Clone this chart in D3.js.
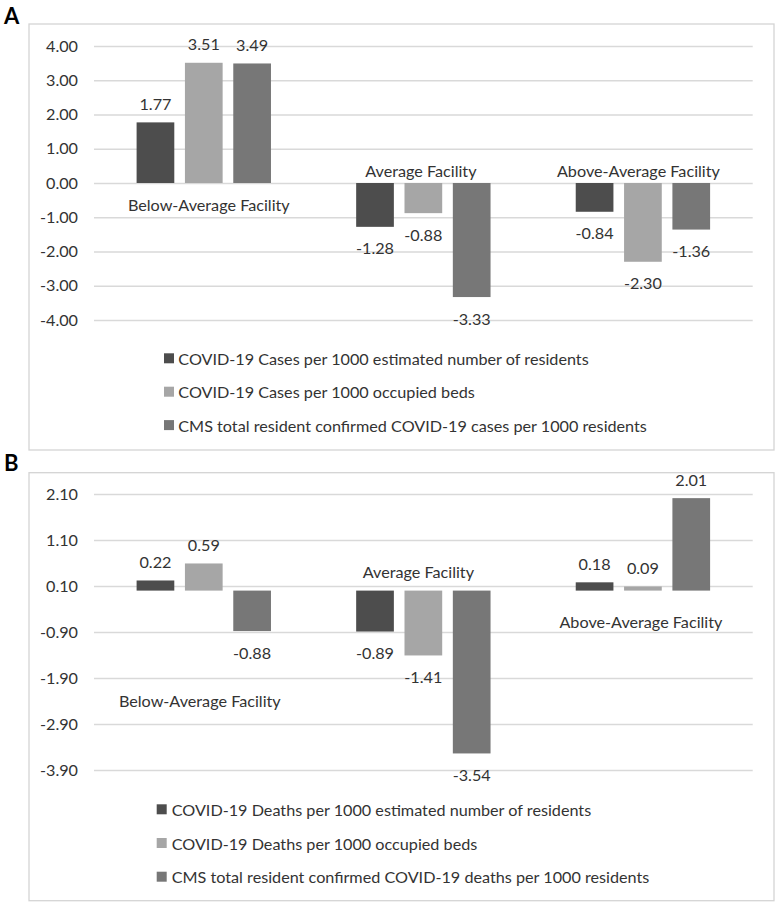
<!DOCTYPE html>
<html>
<head>
<meta charset="utf-8">
<script src="https://cdn.jsdelivr.net/npm/d3@7"></script>
<style>
  html, body { margin: 0; padding: 0; background: #ffffff; }
  svg { display: block; }
  text { font-family: Lato, "Liberation Sans", sans-serif; }
</style>
</head>
<body>
<svg id="chart" width="777" height="904"></svg>
<script>
// ---------- DATA ----------
const categories = ["Below-Average Facility", "Average Facility", "Above-Average Facility"];

const seriesA = [
  "COVID-19 Cases per 1000 estimated number of residents",
  "COVID-19 Cases per 1000 occupied beds",
  "CMS total resident confirmed COVID-19 cases per 1000 residents"
];
// values per category (rows) for each series (columns)
const valuesA = [
  [1.77, 3.51, 3.49],
  [-1.28, -0.88, -3.33],
  [-0.84, -2.30, -1.36]
];
const ticksA = [-4, -3, -2, -1, 0, 1, 2, 3, 4];

const seriesB = [
  "COVID-19 Deaths per 1000 estimated number of residents",
  "COVID-19 Deaths per 1000 occupied beds",
  "CMS total resident confirmed COVID-19 deaths per 1000 residents"
];
const valuesB = [
  [0.22, 0.59, -0.88],
  [-0.89, -1.41, -3.54],
  [0.18, 0.09, 2.01]
];
const ticksB = [-3.9, -2.9, -1.9, -0.9, 0.1, 1.1, 2.1];

const seriesColors = ["#4d4d4d", "#a6a6a6", "#777777"];

// ---------- LAYOUT ----------
const svg = d3.select("#chart");
const textColor = "#333333";
const gridColor = "#d9d9d9";
const fontSize = 16.2;

const panels = [
  {
    letter: "A", letterY: 24,
    box: {x: 29, y: 24, w: 745, h: 426},
    xRange: [94, 752.7],
    domain: [-4, 4], yRange: [320, 46],
    ticks: ticksA, series: seriesA, values: valuesA,
    catDy: [21, -12.5, -12.5], catDx: [5, -2.5, -4.5],
    legend: {sqX: 164, textX: 178.3, y0: 358.3, dy: 33.4}
  },
  {
    letter: "B", letterY: 471,
    box: {x: 29, y: 472.7, w: 745, h: 428},
    xRange: [94, 752.7],
    domain: [-3.9, 2.1], yRange: [770, 494],
    ticks: ticksB, series: seriesB, values: valuesB,
    catDy: [109.4, -19, 31], catDx: [-4, -5, -2],
    legend: {sqX: 156.7, textX: 171.7, y0: 809.3, dy: 33.7}
  }
];

const fmt = v => v.toFixed(2); // hyphen-minus like the original

panels.forEach(p => {
  const g = svg.append("g");

  // panel letter
  svg.append("text")
    .attr("x", 4).attr("y", p.letterY)
    .attr("font-family", "'Liberation Sans', Arial, sans-serif")
    .attr("font-weight", "bold").attr("font-size", 22)
    .attr("fill", "#000").text(p.letter);

  // frame
  g.append("rect")
    .attr("x", p.box.x).attr("y", p.box.y)
    .attr("width", p.box.w).attr("height", p.box.h)
    .attr("fill", "#fff").attr("stroke", "#d4d4d4").attr("stroke-width", 1.3);

  const y = d3.scaleLinear().domain(p.domain).range(p.yRange);
  const x0 = d3.scaleBand().domain(categories).range(p.xRange).paddingInner(0).paddingOuter(0);
  const bw = x0.bandwidth();
  const x1 = d3.scaleBand().domain(d3.range(p.series.length))
    .range([bw * 0.194, bw * 0.806]).paddingInner(0.22).paddingOuter(0);

  // gridlines
  g.append("g")
    .attr("transform", `translate(${p.xRange[0]},0)`)
    .call(d3.axisLeft(y).tickValues(p.ticks)
      .tickSize(-(p.xRange[1] - p.xRange[0]))
      .tickFormat(d => fmt(d)))
    .call(ax => ax.select(".domain").remove())
    .call(ax => ax.selectAll(".tick line").attr("stroke", gridColor).attr("stroke-width", 1.3))
    .call(ax => ax.selectAll(".tick text")
      .attr("x", -16).attr("fill", textColor)
      .attr("font-size", fontSize).attr("font-family", "Lato, 'Liberation Sans', sans-serif"));

  // bars
  const groups = g.selectAll("g.cat").data(categories).join("g")
    .attr("class", "cat")
    .attr("transform", d => `translate(${x0(d)},0)`);

  groups.each(function(cat, ci) {
    const gg = d3.select(this);
    const vals = p.values[ci];
    gg.selectAll("rect").data(vals).join("rect")
      .attr("x", (d, si) => x1(si))
      .attr("width", x1.bandwidth())
      .attr("y", d => y(Math.max(0, d)))
      .attr("height", d => Math.abs(y(d) - y(0)))
      .attr("fill", (d, si) => seriesColors[si]);

    gg.selectAll("text.val").data(vals).join("text")
      .attr("class", "val")
      .attr("x", (d, si) => x1(si) + x1.bandwidth() / 2)
      .attr("y", d => d >= 0 ? y(d) - 19 : y(d) + 21)
      .attr("text-anchor", "middle")
      .attr("dominant-baseline", "central")
      .attr("font-size", fontSize)
      .attr("fill", textColor)
      .text(d => fmt(d));

    gg.append("text")
      .attr("x", bw / 2 + p.catDx[ci])
      .attr("y", y(0) + p.catDy[ci])
      .attr("text-anchor", "middle")
      .attr("dominant-baseline", "central")
      .attr("font-size", fontSize)
      .attr("fill", textColor)
      .text(cat);
  });

  // legend
  const lg = g.selectAll("g.leg").data(p.series).join("g")
    .attr("class", "leg")
    .attr("transform", (d, i) => `translate(0,${p.legend.y0 + i * p.legend.dy})`);
  lg.append("rect")
    .attr("x", p.legend.sqX).attr("y", -5)
    .attr("width", 10).attr("height", 10)
    .attr("fill", (d, i) => seriesColors[i]);
  lg.append("text")
    .attr("x", p.legend.textX).attr("y", 0)
    .attr("dominant-baseline", "central")
    .attr("font-size", fontSize)
    .attr("fill", textColor)
    .text(d => d);
});
</script>
</body>
</html>
